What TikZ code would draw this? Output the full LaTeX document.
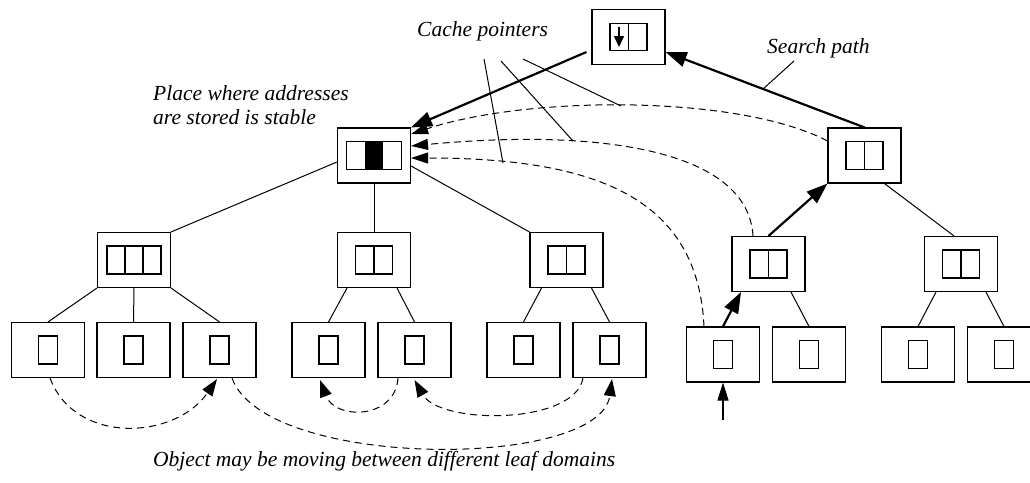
\documentclass[tikz,border=0pt]{standalone}
\usepackage{fontspec}
\setmainfont{Liberation Serif}
\usetikzlibrary{arrows.meta}

\tikzset{
  treebox/.style={draw, line width=1.1pt, minimum width=73pt, minimum height=55pt, inner sep=0pt},
  treeline/.style={line width=1pt},
  searcharrow/.style={line width=2.2pt, -{Triangle[length=21pt,width=15pt]}},
  entryarrow/.style={line width=1.1pt, -{Triangle[length=18pt,width=11pt]}},
  cachearrow/.style={line width=1pt, dash pattern=on 7pt off 4.5pt, -{Triangle[length=17pt,width=11pt]}},
  movearrow/.style={line width=1pt, dash pattern=on 7pt off 5pt, -{Triangle[length=17pt,width=12pt]}},
  remark/.style={font=\fontsize{21.5}{24}\selectfont\itshape, inner sep=0pt},
  cellline/.style={line width=1.1pt},
  onecell/.pic={\draw[cellline] (-9.5,-14) rectangle (9.5,14);},
  twocell/.pic={\draw[cellline] (-18.5,-14) rectangle (18.5,14) (0,-14) -- (0,14);},
  threecell/.pic={\draw[cellline] (-27,-14) rectangle (27,14) (-9,-14) -- (-9,14) (9,-14) -- (9,14);},
  stablecell/.pic={\fill (-9,-14) rectangle (9,14); \draw[cellline] (-27.5,-14) rectangle (27.5,14);},
  rootcell/.pic={\draw[cellline] (-18.5,-13.5) rectangle (18.5,13.5) (0,-13.5) -- (0,13.5);
    \draw[line width=1.4pt, -{Triangle[length=11pt,width=10pt]}] (-9.5,-10) -- (-9.5,10);},
}

\begin{document}
\begin{tikzpicture}[x=1pt, y=-1pt]
\clip (0,0) rectangle (1030,482);

\node[treebox] (root) at (628.5,37) {};
\pic at (root) {rootcell};
\node[treebox] (mid) at (374,155.5) {};
\pic at (mid) {stablecell};
\node[treebox] (ma) at (134,260) {};
\pic at (ma) {threecell};
\node[treebox] (mb) at (374,260) {};
\pic at (mb) {twocell};
\node[treebox] (mc) at (566.5,260) {};
\pic at (mc) {twocell};
\node[treebox] (rt) at (864.5,155.5) {};
\pic at (rt) {twocell};
\node[treebox] (ra) at (768.5,264) {};
\pic at (ra) {twocell};
\node[treebox] (rb) at (961,264) {};
\pic at (rb) {twocell};

\foreach \n/\x in {la/48, lb/133.5, lc/219.5, ld/328.5, le/414.5, lf/523.5, lg/609.5} {
  \node[treebox] (\n) at (\x,350) {};
  \pic at (\n) {onecell};
}
\foreach \n/\x in {ka/723, kb/809, kc/918, kd/1004} {
  \node[treebox] (\n) at (\x,354.5) {};
  \pic at (\n) {onecell};
}

\draw[treeline] ([yshift=-6.5pt]mid.west) -- (ma.north east);
\draw[treeline] (mid.south) -- (mb.north);
\draw[treeline] ([yshift=-10.5pt]mid.east) -- (mc.north west);
\draw[treeline] (ma.south west) -- (la.north);
\draw[treeline] (ma.south) -- (lb.north);
\draw[treeline] (ma.south east) -- (lc.north);
\draw[treeline] ([xshift=-27pt]mb.south) -- (ld.north);
\draw[treeline] ([xshift=23pt]mb.south) -- (le.north);
\draw[treeline] ([xshift=-25pt]mc.south) -- (lf.north);
\draw[treeline] ([xshift=25pt]mc.south) -- (lg.north);
\draw[treeline] ([xshift=20pt]rt.south) -- ([xshift=-7pt]rb.north);
\draw[treeline] ([xshift=22.5pt]ra.south) -- (kb.north);
\draw[treeline] ([xshift=-25pt]rb.south) -- (kc.north);
\draw[treeline] ([xshift=25pt]rb.south) -- (kd.north);

\coordinate (entry) at (723,420);
\draw[entryarrow] (entry) -- (ka.south);
\draw[searcharrow] (ka.north) -- ([xshift=-27.5pt]ra.south);
\draw[searcharrow] (ra.north) -- (rt.south west);
\draw[searcharrow] (rt.north) -- ([yshift=-15pt]root.east);
\draw[searcharrow] ([xshift=-5pt,yshift=-15pt]root.west) -- (mid.north east);

\draw[cachearrow] ([yshift=14.5pt]rt.west) .. controls (740,95) and (530,95) .. ([yshift=21.5pt]mid.east);
\draw[cachearrow] ([xshift=-15.5pt]ra.north) .. controls (748,150) and (600,128) .. ([yshift=9.5pt]mid.east);
\draw[cachearrow] ([xshift=-19pt]ka.north) .. controls (698,200) and (600,158) .. ([yshift=-2.5pt]mid.east);

\draw[movearrow] ([xshift=2pt]la.south) .. controls (75,445) and (175,440) .. ([xshift=-2.5pt,yshift=-1pt]lc.south);
\draw[movearrow] ([xshift=12.5pt]lc.south) .. controls (265,470) and (600,470) .. ([xshift=2.5pt,yshift=-1pt]lg.south);
\draw[movearrow] ([xshift=-16.5pt]le.south) .. controls (395,420) and (335,420) .. ([xshift=-8.5pt,yshift=-2pt]ld.south);
\draw[movearrow] ([xshift=-26.5pt]lg.south) .. controls (575,425) and (440,425) .. ([yshift=-2pt]le.south);

\node[remark, anchor=base west] (cachelbl) at (417,36) {Cache pointers};
\coordinate (ca) at (484,59);
\coordinate (cb) at (501,61);
\coordinate (cc) at (523,59);
\coordinate (ta) at (503,163);
\coordinate (tb) at (573,141);
\coordinate (tc) at (621,106);
\draw[treeline] (ca) -- (ta);
\draw[treeline] (cb) -- (tb);
\draw[treeline] (cc) -- (tc);

\node[remark, anchor=base west] (searchlbl) at (767,53) {Search path};
\coordinate (sa) at (763,89);
\coordinate (sb) at (794,61);
\draw[treeline] (sa) -- (sb);

\node[remark, anchor=north west, align=left] (stablelbl) at (153,85) {Place where addresses\\are stored is stable};
\node[remark, anchor=base west] (movelbl) at (153,466) {Object may be moving between different leaf domains};
\end{tikzpicture}
\end{document}
